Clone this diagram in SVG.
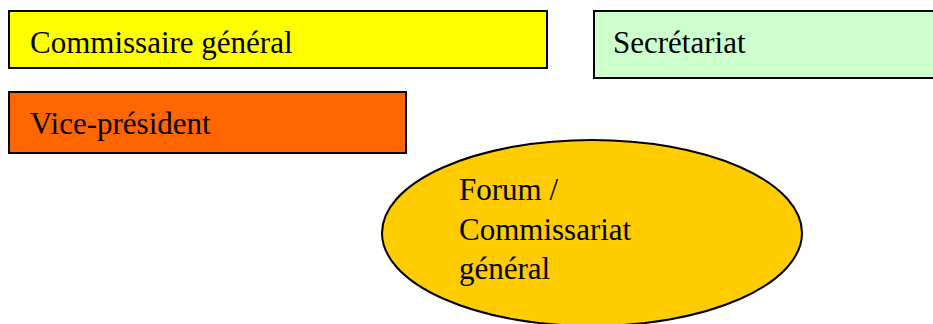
<svg xmlns="http://www.w3.org/2000/svg" width="933" height="324" viewBox="0 0 933 324">
<style>
.box{stroke:#000;stroke-width:2}
.t{font-family:"Liberation Serif","Times New Roman",serif;font-size:31px;fill:#000}
</style>
<rect width="933" height="324" fill="#fff"/>
<g id="commissaire">
<rect class="box" x="9" y="11" width="538" height="57" fill="#ffff00"/>
<text class="t" x="30" y="53">Commissaire général</text>
</g>
<g id="secretariat">
<rect class="box" x="594" y="11" width="345" height="67" fill="#ccffcc"/>
<text class="t" x="613" y="53">Secrétariat</text>
</g>
<g id="vicepresident">
<rect class="box" x="9" y="92" width="397" height="61" fill="#ff6600"/>
<text class="t" x="30" y="134">Vice-président</text>
</g>
<g id="forum">
<ellipse class="box" cx="592" cy="233" rx="210" ry="93" fill="#ffcc00"/>
<text class="t" x="459" y="200">Forum /</text>
<text class="t" x="459" y="240">Commissariat</text>
<text class="t" x="459" y="279">général</text>
</g>
<g id="connectors"></g>
</svg>
